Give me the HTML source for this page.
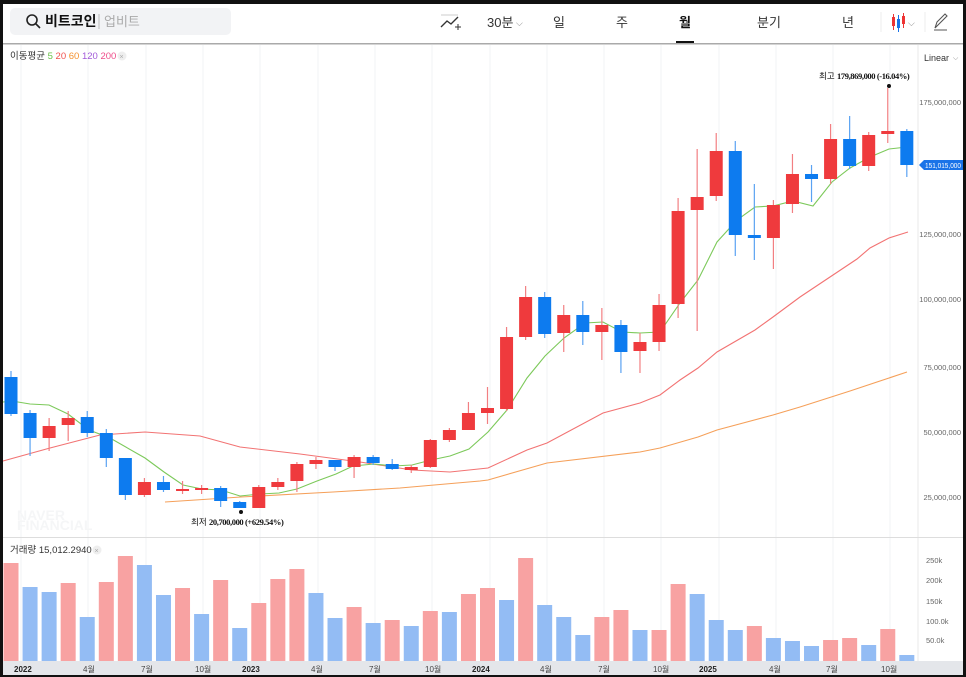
<!DOCTYPE html>
<html><head><meta charset="utf-8">
<style>
html,body{margin:0;padding:0;background:#111;}
#w{position:relative;width:966px;height:677px;overflow:hidden;background:#111;font-family:"Liberation Sans","Noto Sans CJK KR",sans-serif;}
svg{position:absolute;left:0;top:0;}
</style></head><body>
<div id="w">
<svg id="s" width="966" height="677" viewBox="0 0 966 677" xmlns="http://www.w3.org/2000/svg" font-family="Liberation Sans, Noto Sans CJK KR, sans-serif">
<rect x="3" y="4" width="960" height="671" fill="#fff"/>
<rect x="10" y="8" width="221" height="27" rx="5" fill="#f2f3f5"/>
<circle cx="32" cy="20" r="5" fill="none" stroke="#222" stroke-width="1.6"/>
<line x1="36" y1="24" x2="40" y2="28" stroke="#222" stroke-width="1.6"/>
<text x="45" y="26" font-size="14" font-weight="bold" fill="#111">비트코인</text>
<line x1="99" y1="14" x2="99" y2="29" stroke="#bbb"/>
<text x="104" y="26" font-size="13" fill="#aaa">업비트</text>
<path d="M441 27 L447 21 L451 24 L458 17" fill="none" stroke="#333" stroke-width="1.4"/>
<line x1="441" y1="15" x2="458" y2="15" stroke="#ccc"/>
<line x1="455" y1="27" x2="461" y2="27" stroke="#333"/><line x1="458" y1="24" x2="458" y2="30" stroke="#333"/>
<text x="487" y="27" font-size="13" fill="#333">30분</text>
<text x="516" y="26" font-size="9" fill="#888">⌵</text>
<text x="553" y="27" font-size="13" fill="#333">일</text>
<text x="616" y="27" font-size="13" fill="#333">주</text>
<text x="679" y="27" font-size="13" font-weight="bold" fill="#111">월</text>
<rect x="676" y="41" width="18" height="3" fill="#111"/>
<text x="757" y="27" font-size="13" fill="#333">분기</text>
<text x="842" y="27" font-size="13" fill="#333">년</text>
<line x1="881" y1="12" x2="881" y2="32" stroke="#eee"/>
<rect x="892" y="17" width="3" height="9" fill="#e33"/><line x1="893.5" y1="14" x2="893.5" y2="30" stroke="#e33"/>
<rect x="897" y="19" width="3" height="9" fill="#1a73e8"/><line x1="898.5" y1="15" x2="898.5" y2="32" stroke="#1a73e8"/>
<rect x="902" y="16" width="3" height="8" fill="#e33"/><line x1="903.5" y1="13" x2="903.5" y2="28" stroke="#e33"/>
<text x="908" y="26" font-size="9" fill="#888">⌵</text>
<line x1="925" y1="12" x2="925" y2="32" stroke="#eee"/>
<path d="M935 28 L937 22 L945 14 L947 16 L939 24 Z" fill="none" stroke="#555" stroke-width="1.1"/>
<line x1="934" y1="30" x2="947" y2="30" stroke="#555"/>
<rect x="3" y="43" width="960" height="1.5" fill="#aaa"/>
<g id="grid" stroke="#f2f3f5" stroke-width="1"></g>
<line x1="918" y1="45" x2="918" y2="661" stroke="#e8e8e8"/>
<line x1="3" y1="537.5" x2="963" y2="537.5" stroke="#ddd"/>
<text x="10" y="59" font-size="9.5" fill="#333">이동평균 <tspan fill="#6ac04a">5</tspan> <tspan fill="#f0504f">20</tspan> <tspan fill="#f5922f">60</tspan> <tspan fill="#a259d9">120</tspan> <tspan fill="#ee4d8a">200</tspan></text>
<circle cx="122" cy="56" r="4.5" fill="#eee"/><text x="119.5" y="59" font-size="7" fill="#aaa">×</text>
<text x="924" y="61" font-size="9" fill="#333">Linear</text><text x="953" y="60" font-size="7" fill="#888">⌵</text>
<text x="17" y="520" font-size="14" font-weight="bold" fill="#f5f6f7">NAVER</text>
<text x="17" y="530" font-size="14" font-weight="bold" fill="#f5f6f7">FINANCIAL</text>
<g font-size="7.5" fill="#666" text-anchor="end">
<text x="961" y="105">175,000,000</text>
<text x="961" y="237">125,000,000</text>
<text x="961" y="302">100,000,000</text>
<text x="961" y="370">75,000,000</text>
<text x="961" y="435">50,000,000</text>
<text x="961" y="500">25,000,000</text>
</g>
<g font-size="7.5" fill="#666">
<text x="926" y="563">250k</text>
<text x="926" y="583">200k</text>
<text x="926" y="604">150k</text>
<text x="926" y="624">100.0k</text>
<text x="926" y="643">50.0k</text>
</g>
<path d="M919 165 L924 160 L963 160 L963 170 L924 170 Z" fill="#1a73e8"/>
<text x="925" y="168" font-size="7.5" fill="#fff" textLength="36" lengthAdjust="spacingAndGlyphs">151,015,000</text>
<g id="vol"></g>
<g id="ma"></g>
<g id="cd"></g>
<circle cx="889" cy="86" r="2" fill="#111"/>
<text x="819" y="79" font-size="8.5" fill="#111">최고 <tspan font-family="Liberation Serif" font-weight="bold" letter-spacing="-0.4">179,869,000 (-16.04%)</tspan></text>
<circle cx="241" cy="512" r="2" fill="#111"/>
<text x="191" y="525" font-size="8.5" fill="#111">최저 <tspan font-family="Liberation Serif" font-weight="bold" letter-spacing="-0.4">20,700,000 (+629.54%)</tspan></text>
<text x="10" y="553" font-size="9.5" fill="#333">거래량 15,012.2940</text>
<circle cx="97" cy="550" r="4.5" fill="#eee"/><text x="94.5" y="553" font-size="7" fill="#aaa">×</text>
<rect x="3" y="661" width="960" height="14" fill="#e4e6ea"/>
<g font-size="8" fill="#444">
<text x="14" y="672" font-weight="bold" fill="#222">2022</text>
<text x="83" y="672">4월</text><text x="141" y="672">7월</text><text x="195" y="672">10월</text>
<text x="242" y="672" font-weight="bold" fill="#222">2023</text>
<text x="311" y="672">4월</text><text x="369" y="672">7월</text><text x="425" y="672">10월</text>
<text x="472" y="672" font-weight="bold" fill="#222">2024</text>
<text x="540" y="672">4월</text><text x="598" y="672">7월</text><text x="653" y="672">10월</text>
<text x="699" y="672" font-weight="bold" fill="#222">2025</text>
<text x="769" y="672">4월</text><text x="826" y="672">7월</text><text x="881" y="672">10월</text>
</g>
</svg>
</div>
<script>
var NS="http://www.w3.org/2000/svg";
function el(p,t,a){var e=document.createElementNS(NS,t);for(var k in a)e.setAttribute(k,a[k]);document.getElementById(p).appendChild(e);}
[21,88,146,203,260,318,375,432,490,547,604,661,719,776,833,890].forEach(function(x){el("grid","line",{x1:x,y1:45,x2:x,y2:661});});
var C=[["b",377,414,371,416],["b",413,438,410,456],["r",426,438,418,451],["r",418,425,411,441],["b",417,433,411,437],["b",433,458,429,467],["b",458,495,458,500],["r",482,495,478,497],["b",482,490,476,492],["r",489,490,481,494],["r",488,490,485,494],["b",488,501,486,507],["b",502,508,501,508],["r",487,508,485,508],["r",482,487,478,490],["r",464,481,462,492],["r",460,464,457,469],["b",460,467,460,471],["r",457,467,455,478],["b",457,463,455,465],["b",464,469,459,470],["r",467,470,465,473],["r",440,467,439,468],["r",430,440,428,442],["r",413,430,402,430],["r",408,413,387,424],["r",337,409,327,411],["r",297,337,286,340],["b",297,334,292,338],["r",315,333,305,352],["b",315,332,301,345],["r",325,332,308,360],["b",325,352,320,373],["r",342,351,333,373],["r",305,342,294,351],["r",211,304,198,318],["r",197,210,149,331],["r",151,196,133,201],["b",151,235,141,256],["b",235,238,184,260],["r",205,238,200,269],["r",174,204,154,213],["b",174,179,165,202],["r",139,179,124,184],["b",139,166,116,169],["r",135,166,132,171],["r",131,134,88,143],["b",131,165,129,177]];
var V=[563,587,592,583,617,582,556,565,595,588,614,580,628,603,579,569,593,618,607,623,620,626,611,612,594,588,600,558,605,617,635,617,610,630,630,584,594,620,630,626,638,641,646,640,638,645,629,655];
var VC="rbbrbrrbbrbrbrrrbbrbrbrbrrbrbbbrrbrrbbbrbbbrrbrb";
for(var i=0;i<48;i++){
 var x=11+19.06*i, c=C[i], col=c[0]=="r"?"#ef3a3d":"#0d7bef", wc=c[0]=="r"?"#f27f82":"#5aa2f2";
 el("vol","rect",{x:x-7.5,y:V[i],width:15,height:661-V[i],fill:VC[i]=="r"?"#f8a2a2":"#93bcf4"});
 el("cd","line",{x1:x,y1:c[3],x2:x,y2:c[4],stroke:wc,"stroke-width":1.2});
 el("cd","rect",{x:x-6.5,y:c[1],width:13,height:Math.max(2,c[2]-c[1]),fill:col});
}
el("ma","polyline",{fill:"none",stroke:"#f5a05a","stroke-width":1.1,points:"165,502 241,497 333,492 400,488 480,481 488,480 547,463 640,452 660,448 698,437 717,430 773,415 800,407 850,391 907,372"});
el("ma","polyline",{fill:"none",stroke:"#f27373","stroke-width":1.1,points:"3,461 50,448 100,435 145,432 200,436 240,447 300,454 360,462 412,470 450,472 488,468 527,450 547,443 603,413 640,403 660,395 680,380 698,368 717,352 755,330 773,317 800,297 857,259 870,248 889,238 908,232"});
el("ma","polyline",{fill:"none",stroke:"#7cc95a","stroke-width":1.1,points:"3,402 12,401 30,404 49,405 68,414 89,430 110,438 145,458 164,472 183,485 202,489 221,490 240,496 260,494 279,493 297,489 317,481 336,474 353,466 374,464 393,466 412,465 431,460 450,456 469,449 488,432 507,410 527,378 545,356 564,338 585,323 603,322 622,332 640,333 660,332 680,303 698,280 717,242 737,220 755,207 773,206 793,201 813,206 832,182 850,168 870,157 889,149 907,147"});
</script>
</body></html>
